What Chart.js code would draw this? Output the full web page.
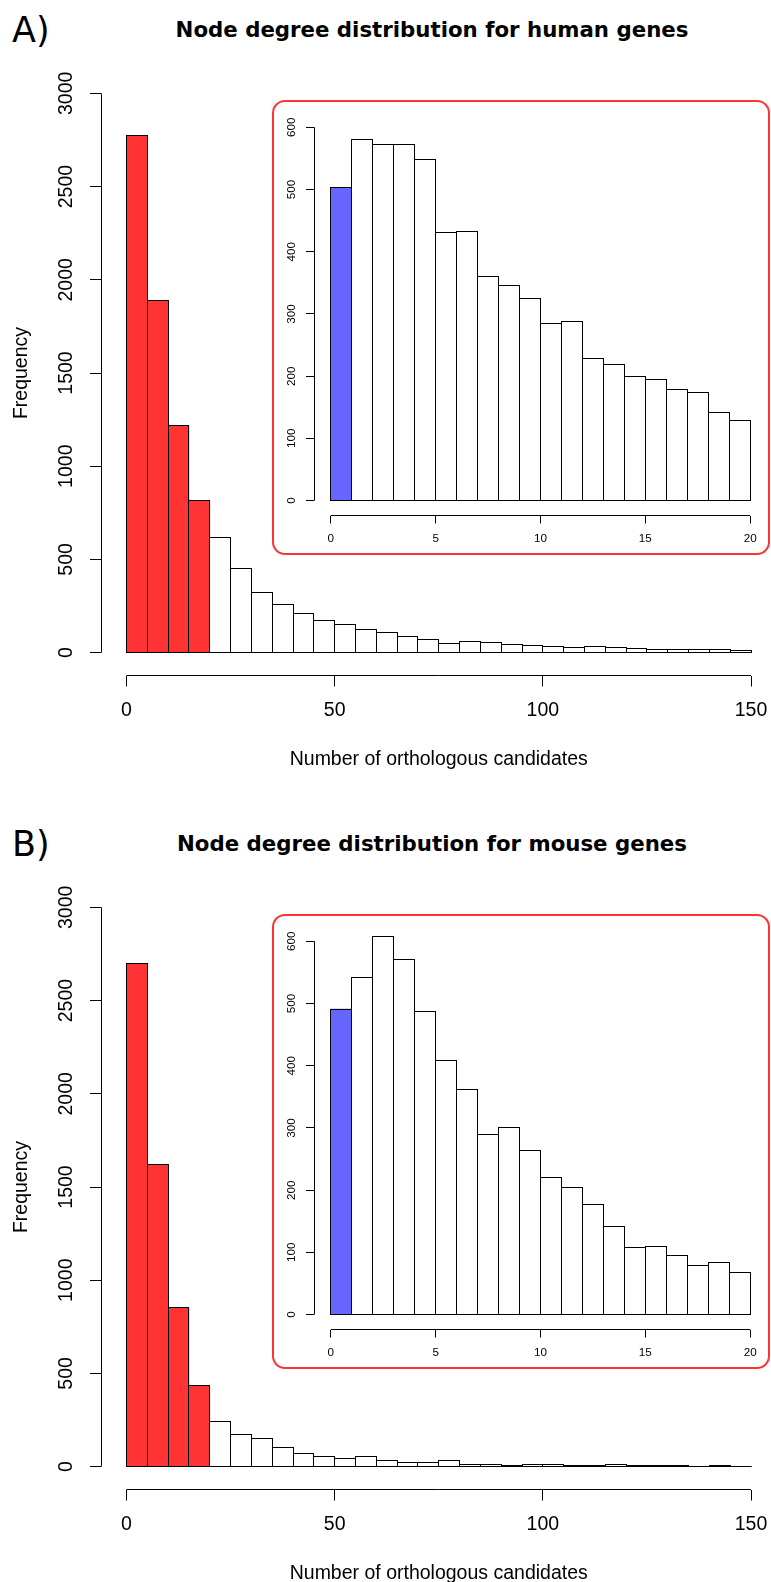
<!DOCTYPE html>
<html>
<head>
<meta charset="utf-8">
<script src="https://cdn.jsdelivr.net/npm/chart.js@4.4.0/dist/chart.umd.min.js"></script>
<style>
html,body{margin:0;padding:0;background:#fff;width:771px;height:1582px;overflow:hidden;position:relative}
.panel{position:absolute;left:0;width:771px;height:814px}
.tag{position:absolute;left:12px;top:13px;font-family:"DejaVu Sans";font-size:35px;line-height:35px;color:#000;white-space:nowrap}
.title{position:absolute;left:132px;width:600px;text-align:center;top:18.7px;font-family:"DejaVu Sans";font-weight:bold;font-size:21.3px;line-height:21.3px;color:#000;white-space:nowrap}
canvas{position:absolute;display:block}
.main{left:0;top:0}
.box{position:absolute;left:271.5px;top:100px;width:498px;height:455px;border:2.5px solid #FF3333;border-radius:13px;box-sizing:border-box;background:#fff}
.inset{left:272px;top:101px}
</style>
</head>
<body>
<div class="panel" id="panelA" style="top:0px">
  <div class="tag" id="tagA"></div>
  <div class="title" id="titleA"></div>
  <canvas class="main" id="mainA" width="800" height="775"></canvas>
  <div class="box"></div>
  <canvas class="inset" id="insetA" width="496" height="453"></canvas>
</div>
<div class="panel" id="panelB" style="top:814px">
  <div class="tag" id="tagB"></div>
  <div class="title" id="titleB"></div>
  <canvas class="main" id="mainB" width="800" height="775"></canvas>
  <div class="box"></div>
  <canvas class="inset" id="insetB" width="496" height="453"></canvas>
</div>
<script>
// ---------------- data ----------------
const panelTags = ["A)", "B)"];
const panelTitles = ["Node degree distribution for human genes", "Node degree distribution for mouse genes"];
const xAxisTitle = "Number of orthologous candidates";
const yAxisTitle = "Frequency";

// main histograms: bins of width 5 from 0 to 150
const mainBinStarts = [0,5,10,15,20,25,30,35,40,45,50,55,60,65,70,75,80,85,90,95,100,105,110,115,120,125,130,135,140,145];
const mainBinWidth = 5;
const humanMain = [2775,1890,1218,816,619,450,325,260,212,175,150,125,109,86,73,48,61,54,41,37,32,27,32,27,21,18,18,18,16,9];
const mouseMain = [2698,1621,852,435,241,170,150,105,73,52,43,54,34,23,20,32,14,12,7,9,9,5,7,11,5,4,4,2,4,2];

// inset histograms: bins of width 1 from 0 to 20
const insetBinStarts = [0,1,2,3,4,5,6,7,8,9,10,11,12,13,14,15,16,17,18,19];
const insetBinWidth = 1;
const humanInset = [503,580,572,573,548,431,432,360,345,324,285,287,228,218,200,194,178,173,142,129];
const mouseInset = [491,542,607,570,487,408,361,290,300,263,221,205,177,142,108,110,95,79,84,67];

// tick labels
const mainYTicks = [0,500,1000,1500,2000,2500,3000];
const mainXTicks = [0,50,100,150];
const insetYTicks = [0,100,200,300,400,500,600];
const insetXTicks = [0,5,10,15,20];

// ---------------- drawing ----------------
const RED = '#FF3333', BLUE = '#6666FF';
const FONT = 'Liberation Sans';

function alignPx(p){ return Math.round(p - 0.5) + 0.5; }

// R-style axis lines spanning only first..last tick
const rAxisPlugin = {
  id: 'rAxis',
  afterDraw(chart) {
    const ctx = chart.ctx;
    const xs = chart.scales.x, ys = chart.scales.y;
    ctx.save();
    ctx.strokeStyle = '#000';
    ctx.lineWidth = 1;
    ctx.beginPath();
    const yb = alignPx(xs.top);
    ctx.moveTo(xs.getPixelForValue(xs.ticks[0].value), yb);
    ctx.lineTo(xs.getPixelForValue(xs.ticks[xs.ticks.length-1].value), yb);
    const xb = alignPx(ys.right);
    ctx.moveTo(xb, ys.getPixelForValue(ys.ticks[0].value));
    ctx.lineTo(xb, ys.getPixelForValue(ys.ticks[ys.ticks.length-1].value));
    ctx.stroke();
    ctx.restore();
  }
};

// R-style bar outlines (1px, centred on the bar edges)
const rOutlinePlugin = {
  id: 'rOutline',
  afterDatasetsDraw(chart) {
    const ctx = chart.ctx;
    ctx.save();
    ctx.strokeStyle = '#000';
    ctx.lineWidth = 1;
    chart.getDatasetMeta(0).data.forEach(el => {
      const l = alignPx(el.x - el.width / 2), r = alignPx(el.x + el.width / 2);
      const t = alignPx(el.y), b = alignPx(el.base);
      ctx.strokeRect(l, t, r - l, b - t);
    });
    ctx.restore();
  }
};

function makeHist(id, starts, width, values, nHighlight, hlColor, L) {
  const data = starts.map((s, i) => ({x: s + width / 2, y: values[i]}));
  const colors = values.map((v, i) => i < nHighlight ? hlColor : '#FFFFFF');
  const gridOpts = { display: true, offset: false, drawOnChartArea: false, drawTicks: true, tickLength: L.tl, tickColor: '#000', lineWidth: 1 };
  return new Chart(document.getElementById(id), {
    type: 'bar',
    data: { datasets: [{
      data: data,
      backgroundColor: colors,
      borderWidth: 0,
      barPercentage: 1,
      categoryPercentage: 1
    }]},
    options: {
      responsive: false,
      animation: false,
      events: [],
      layout: { padding: L.padding },
      plugins: { legend: {display: false}, tooltip: {enabled: false}, title: {display: false} },
      scales: {
        x: {
          type: 'linear', offset: false,
          min: L.xMin, max: L.xMax,
          afterBuildTicks: s => { s.ticks = L.xTicks.map(v => ({value: v})); },
          afterFit: s => { s.height = L.xH; },
          grid: gridOpts,
          border: { display: true, color: 'rgba(0,0,0,0)' },
          ticks: { color: '#000', font: {family: FONT, size: L.fs}, padding: L.xPad, maxRotation: 0, autoSkip: false, callback: v => String(v) },
          title: L.xTitle ? { display: true, text: L.xTitle, color: '#000', font: {family: FONT, size: L.fs}, padding: {top: 0, bottom: L.xTitlePad} } : {display: false}
        },
        y: {
          type: 'linear',
          min: L.yMin, max: L.yMax,
          afterBuildTicks: s => { s.ticks = L.yTicks.map(v => ({value: v})); },
          afterFit: s => { s.width = L.yW; },
          grid: gridOpts,
          border: { display: true, color: 'rgba(0,0,0,0)' },
          ticks: { color: '#000', font: {family: FONT, size: L.fs}, padding: L.yPad, minRotation: 90, maxRotation: 90, crossAlign: 'center', autoSkip: false, callback: v => String(v) },
          title: L.yTitle ? { display: true, text: L.yTitle, color: '#000', font: {family: FONT, size: L.fs}, padding: {top: L.yTitlePad, bottom: 0} } : {display: false}
        }
      }
    },
    plugins: [rOutlinePlugin, rAxisPlugin]
  });
}

const mainLayout = {
  padding: {left: 0, top: 71, right: 24, bottom: 0},
  xMin: -6, xMax: 156, yMin: -120, yMax: 3120,
  xTicks: mainXTicks, yTicks: mainYTicks,
  xH: 100, yW: 101.5, tl: 11.5, fs: 19.5,
  xPad: 12.6, yPad: 1.6,
  xTitle: xAxisTitle, yTitle: yAxisTitle, xTitlePad: 3.3, yTitlePad: 10
};
const insetLayout = {
  padding: {left: 0, top: 9, right: 1, bottom: 0},
  xMin: -0.8, xMax: 20.8, yMin: -24, yMax: 624,
  xTicks: insetXTicks, yTicks: insetYTicks,
  xH: 38.5, yW: 42, tl: 8, fs: 11.7,
  xPad: 8.5, yPad: 4.3,
  xTitle: null, yTitle: null
};

document.getElementById('tagA').textContent = panelTags[0];
document.getElementById('tagB').textContent = panelTags[1];
document.getElementById('titleA').textContent = panelTitles[0];
document.getElementById('titleB').textContent = panelTitles[1];

makeHist('mainA', mainBinStarts, mainBinWidth, humanMain, 4, RED, mainLayout);
makeHist('insetA', insetBinStarts, insetBinWidth, humanInset, 1, BLUE, insetLayout);
makeHist('mainB', mainBinStarts, mainBinWidth, mouseMain, 4, RED, mainLayout);
makeHist('insetB', insetBinStarts, insetBinWidth, mouseInset, 1, BLUE, insetLayout);
</script>
</body>
</html>
